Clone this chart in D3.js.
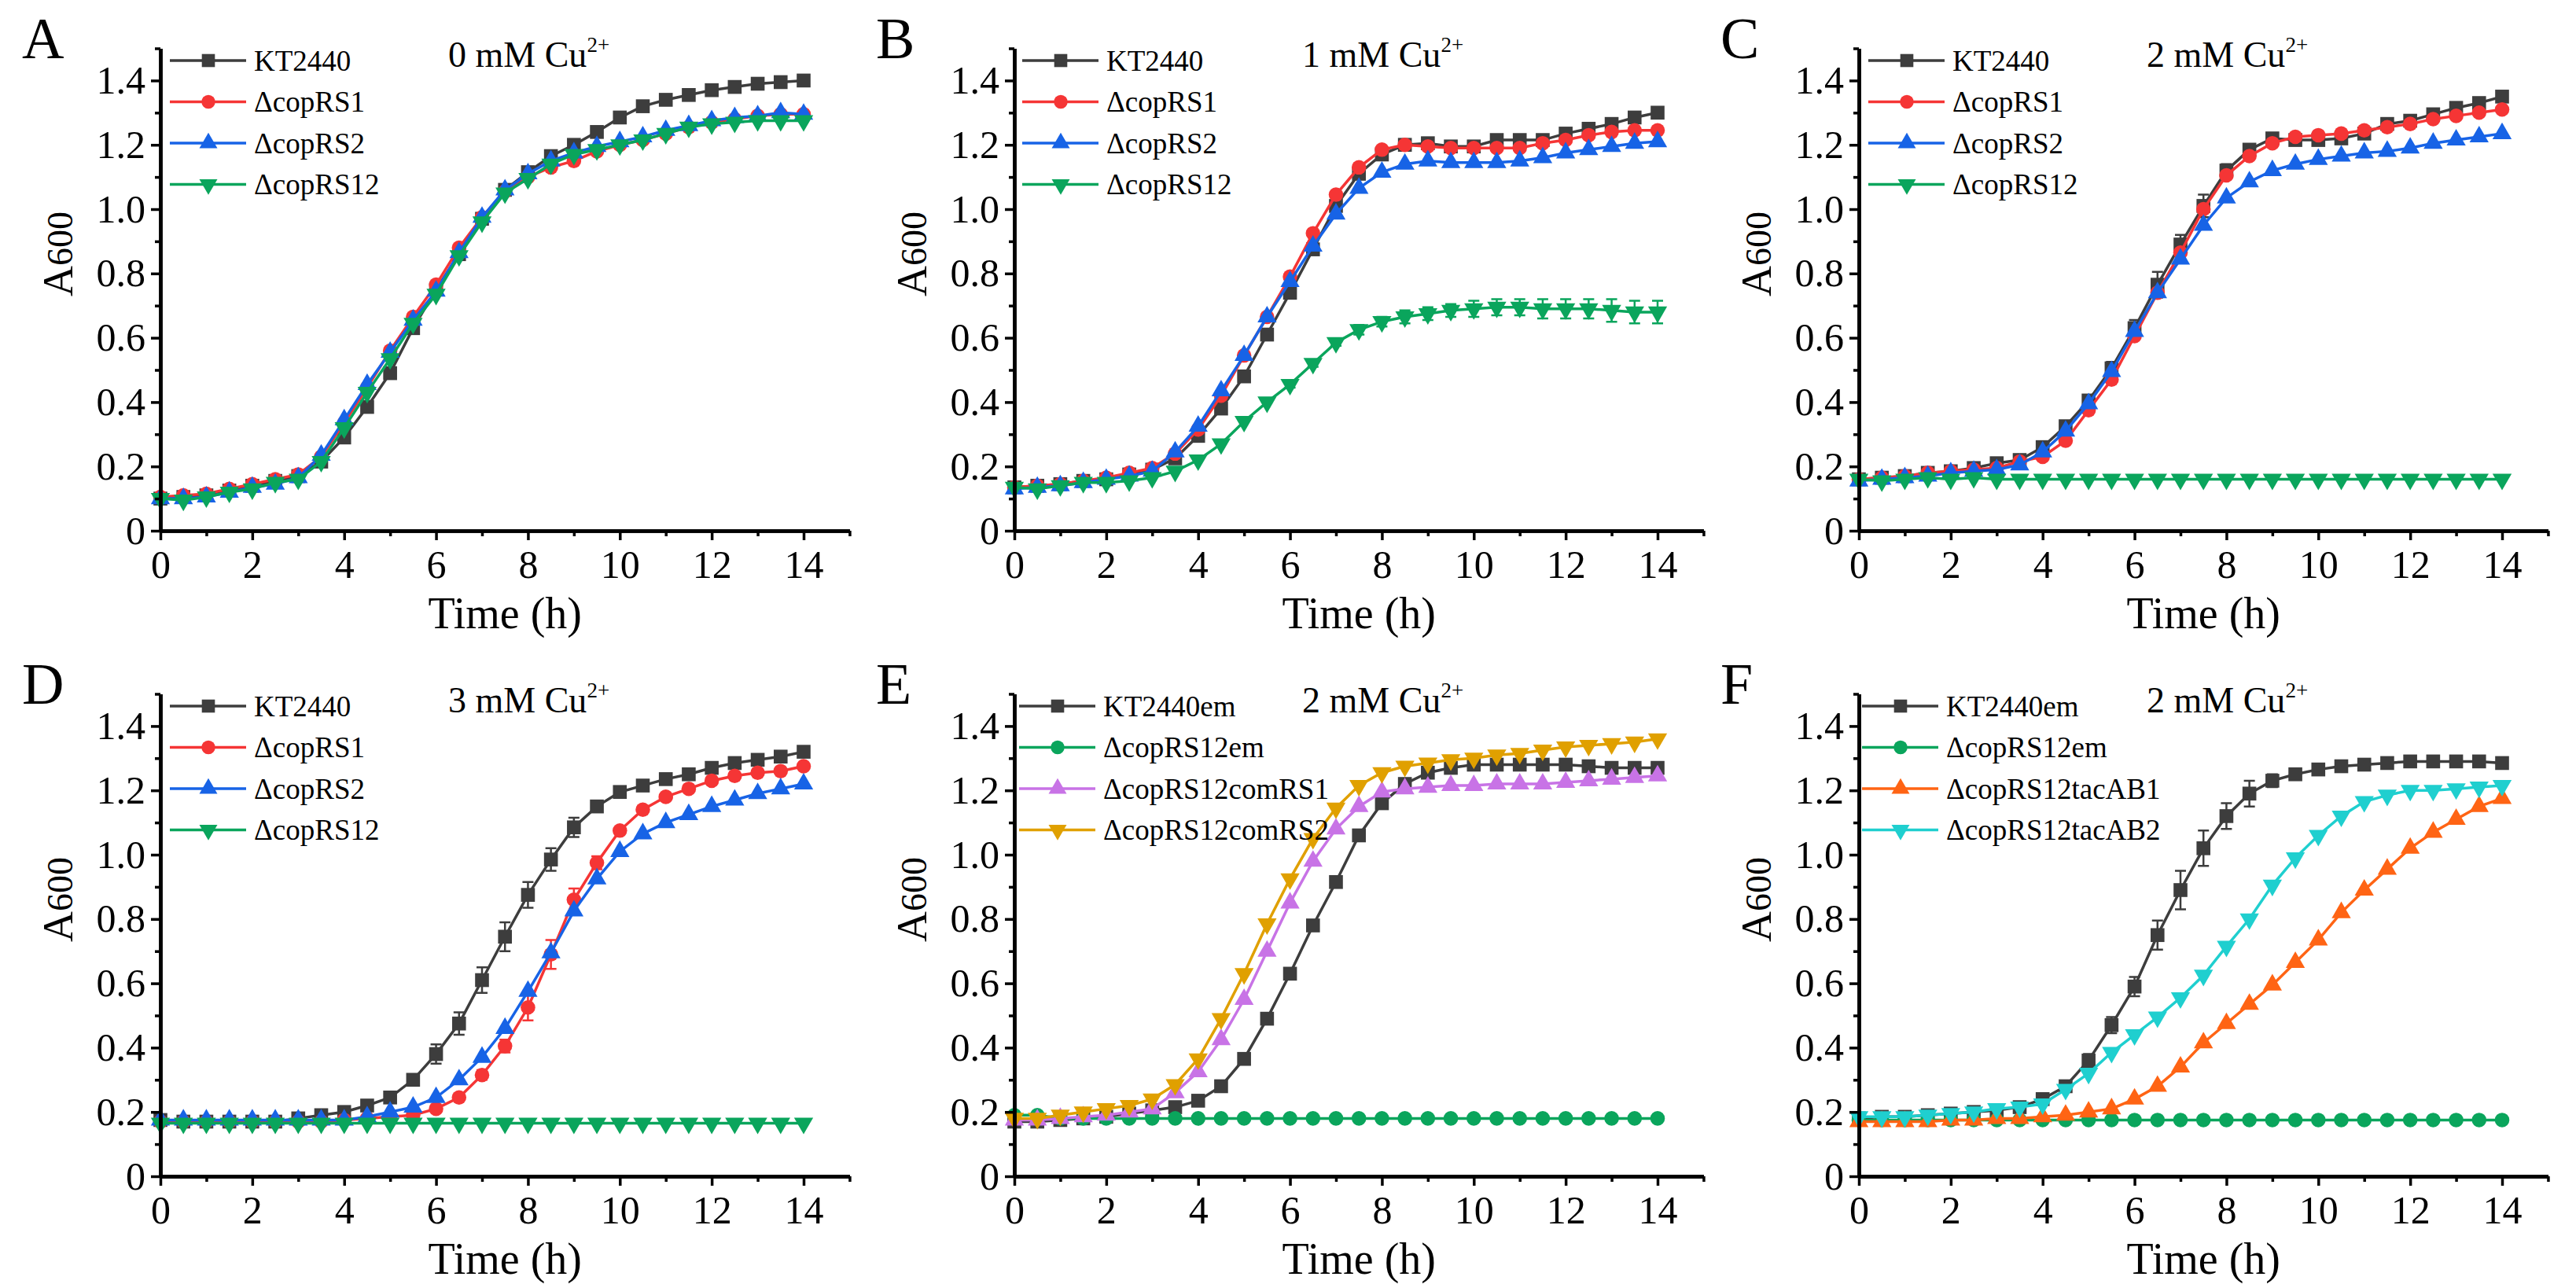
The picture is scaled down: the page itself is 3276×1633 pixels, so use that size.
<!DOCTYPE html>
<html>
<head>
<meta charset="utf-8">
<script src="https://cdn.jsdelivr.net/npm/d3@7"></script>
<style>
  body { margin: 0; background: #fff; }
  svg text { font-family: "Liberation Serif", "DejaVu Serif", serif !important; fill: #000; }
</style>
</head>
<body>
<script>
// sampling times (h)
var times = [0,0.5,1,1.5,2,2.5,3,3.5,4,4.5,5,5.5,6,6.5,7,7.5,8,8.5,9,9.5,10,10.5,11,11.5,12,12.5,13,13.5,14]

var yTicks = [0,0.2,0.4,0.6,0.8,1.0,1.2,1.4]
var yMinor = [0.1,0.3,0.5,0.7,0.9,1.1,1.3,1.5]
var xTicks = [0,2,4,6,8,10,12,14]
var xMinor = [1,3,5,7,9,11,13,15]

// A: 0 mM Cu2+
var aKT2440 = [0.10,0.105,0.11,0.125,0.14,0.155,0.17,0.215,0.29,0.385,0.49,0.63,0.75,0.86,0.97,1.06,1.115,1.165,1.20,1.24,1.285,1.32,1.34,1.355,1.37,1.38,1.39,1.395,1.40]
var aRS1 = [0.105,0.11,0.115,0.13,0.145,0.16,0.175,0.23,0.335,0.445,0.56,0.665,0.765,0.88,0.975,1.055,1.10,1.13,1.15,1.18,1.20,1.215,1.235,1.255,1.27,1.28,1.29,1.295,1.295]
var aRS2 = [0.10,0.10,0.105,0.12,0.135,0.145,0.165,0.235,0.345,0.455,0.555,0.655,0.745,0.865,0.975,1.06,1.11,1.15,1.175,1.195,1.21,1.225,1.245,1.26,1.275,1.285,1.29,1.30,1.295]
var aRS12 = [0.10,0.095,0.105,0.12,0.13,0.15,0.16,0.215,0.32,0.43,0.535,0.645,0.735,0.855,0.96,1.05,1.095,1.14,1.17,1.185,1.20,1.215,1.235,1.255,1.265,1.27,1.275,1.275,1.275]

// B: 1 mM Cu2+
var bKT2440 = [0.135,0.14,0.145,0.155,0.16,0.175,0.19,0.225,0.295,0.38,0.48,0.61,0.74,0.875,1.01,1.11,1.17,1.20,1.205,1.195,1.195,1.215,1.215,1.215,1.235,1.25,1.265,1.285,1.30]
var bRS1 = [0.135,0.14,0.145,0.155,0.165,0.18,0.195,0.24,0.315,0.42,0.545,0.665,0.79,0.925,1.045,1.13,1.185,1.20,1.195,1.19,1.19,1.19,1.19,1.205,1.215,1.23,1.24,1.245,1.245]
var bRS2 = [0.13,0.135,0.14,0.15,0.16,0.17,0.185,0.245,0.325,0.435,0.545,0.665,0.775,0.885,0.985,1.065,1.115,1.14,1.15,1.145,1.145,1.145,1.15,1.16,1.175,1.185,1.195,1.205,1.21]
var bRS12 = [0.135,0.13,0.14,0.15,0.15,0.155,0.165,0.185,0.22,0.27,0.34,0.40,0.455,0.52,0.585,0.625,0.65,0.665,0.675,0.685,0.69,0.695,0.695,0.69,0.69,0.69,0.685,0.68,0.68]
var bRS12err = [0,0,0,0,0,0,0,0,0,0,0.005,0.005,0.01,0.01,0.01,0.015,0.015,0.02,0.02,0.02,0.025,0.025,0.025,0.03,0.03,0.03,0.035,0.035,0.035]

// C: 2 mM Cu2+
var cKT2440 = [0.16,0.165,0.17,0.18,0.185,0.195,0.21,0.22,0.26,0.325,0.405,0.505,0.63,0.765,0.89,1.01,1.12,1.185,1.22,1.215,1.215,1.22,1.235,1.265,1.275,1.295,1.315,1.33,1.35]
var cKT2440err = [0,0,0,0,0,0,0,0,0,0,0.01,0.02,0.025,0.04,0.03,0.035,0.02,0.01,0.01,0.01,0.01,0.01,0.01,0.01,0.01,0.01,0.01,0.01,0.01]
var cRS1 = [0.16,0.165,0.17,0.18,0.185,0.19,0.195,0.215,0.23,0.28,0.375,0.47,0.605,0.74,0.865,1.00,1.105,1.165,1.205,1.225,1.23,1.235,1.245,1.255,1.265,1.28,1.29,1.30,1.31]
var cRS2 = [0.155,0.16,0.165,0.17,0.18,0.185,0.19,0.205,0.245,0.31,0.395,0.495,0.62,0.74,0.845,0.95,1.035,1.085,1.12,1.14,1.155,1.165,1.175,1.18,1.19,1.205,1.215,1.225,1.235]
var cRS12 = [0.16,0.155,0.16,0.165,0.16,0.165,0.16,0.16,0.16,0.16,0.16,0.16,0.16,0.16,0.16,0.16,0.16,0.16,0.16,0.16,0.16,0.16,0.16,0.16,0.16,0.16,0.16,0.16,0.16]

// D: 3 mM Cu2+
var dKT2440 = [0.175,0.17,0.17,0.17,0.17,0.17,0.18,0.19,0.20,0.22,0.245,0.30,0.38,0.475,0.61,0.745,0.875,0.985,1.085,1.15,1.195,1.215,1.235,1.25,1.27,1.285,1.295,1.305,1.32]
var dKT2440err = [0,0,0,0,0,0,0,0,0,0,0.01,0.01,0.03,0.035,0.04,0.045,0.04,0.035,0.03,0.015,0.01,0.01,0.005,0.005,0.005,0.005,0.005,0.005,0.005]
var dRS1 = [0.17,0.17,0.17,0.17,0.17,0.17,0.17,0.17,0.175,0.18,0.185,0.19,0.21,0.245,0.315,0.405,0.525,0.69,0.86,0.975,1.075,1.14,1.18,1.205,1.23,1.245,1.255,1.26,1.275]
var dRS1err = [0,0,0,0,0,0,0,0,0,0,0,0,0.01,0.01,0.015,0.02,0.04,0.045,0.035,0.02,0.01,0.01,0.01,0.01,0.01,0.01,0.01,0.01,0.01]
var dRS2 = [0.175,0.175,0.175,0.175,0.175,0.175,0.175,0.175,0.175,0.185,0.20,0.215,0.245,0.30,0.37,0.46,0.575,0.695,0.825,0.925,1.01,1.065,1.10,1.125,1.15,1.17,1.19,1.205,1.22]
var dRS12 = [0.165,0.165,0.165,0.165,0.165,0.165,0.165,0.165,0.165,0.165,0.165,0.165,0.165,0.165,0.165,0.165,0.165,0.165,0.165,0.165,0.165,0.165,0.165,0.165,0.165,0.165,0.165,0.165,0.165]

// E: 2 mM Cu2+, complementation
var eKT2440em = [0.17,0.17,0.175,0.18,0.185,0.195,0.205,0.215,0.235,0.28,0.365,0.49,0.63,0.78,0.915,1.06,1.16,1.22,1.255,1.27,1.28,1.28,1.28,1.28,1.28,1.275,1.27,1.27,1.27]
var eRS12em = [0.19,0.19,0.18,0.18,0.18,0.18,0.18,0.18,0.18,0.18,0.18,0.18,0.18,0.18,0.18,0.18,0.18,0.18,0.18,0.18,0.18,0.18,0.18,0.18,0.18,0.18,0.18,0.18,0.18]
var eComRS1 = [0.175,0.175,0.18,0.185,0.19,0.20,0.21,0.26,0.325,0.425,0.55,0.70,0.85,0.98,1.08,1.15,1.195,1.205,1.21,1.215,1.215,1.22,1.22,1.22,1.225,1.23,1.235,1.24,1.245]
var eComRS2 = [0.18,0.18,0.19,0.20,0.21,0.22,0.24,0.285,0.365,0.49,0.63,0.785,0.925,1.05,1.145,1.215,1.255,1.275,1.285,1.295,1.30,1.31,1.315,1.325,1.335,1.34,1.345,1.35,1.36]

// F: 2 mM Cu2+, tacAB
var fKT2440em = [0.18,0.185,0.185,0.19,0.195,0.20,0.205,0.215,0.24,0.28,0.36,0.47,0.59,0.75,0.89,1.02,1.12,1.19,1.23,1.25,1.265,1.275,1.28,1.285,1.29,1.29,1.29,1.29,1.285]
var fKT2440err = [0,0,0,0,0,0,0,0,0.01,0.01,0.02,0.025,0.03,0.045,0.06,0.055,0.04,0.04,0.02,0.01,0.01,0.005,0.005,0.005,0.005,0.005,0.005,0.005,0.005]
var fRS12em = [0.175,0.175,0.175,0.175,0.175,0.175,0.175,0.175,0.175,0.175,0.175,0.175,0.175,0.175,0.175,0.175,0.175,0.175,0.175,0.175,0.175,0.175,0.175,0.175,0.175,0.175,0.175,0.175,0.175]
var fTacAB1 = [0.17,0.17,0.17,0.17,0.175,0.175,0.18,0.18,0.185,0.19,0.20,0.21,0.24,0.28,0.34,0.415,0.475,0.535,0.595,0.665,0.735,0.82,0.89,0.955,1.02,1.07,1.11,1.15,1.175]
var fTacAB2 = [0.185,0.185,0.185,0.19,0.195,0.20,0.21,0.215,0.225,0.27,0.32,0.385,0.44,0.495,0.555,0.625,0.715,0.80,0.905,0.99,1.06,1.12,1.165,1.185,1.20,1.20,1.205,1.21,1.215]

// styles
var sty = {
  kt:    {color: "#3d3d3d", shape: "square"},
  rs1:   {color: "#f53535", shape: "circle"},
  rs2:   {color: "#1763e6", shape: "up"},
  rs12:  {color: "#0aa55c", shape: "down"},
  rs12c: {color: "#0aa55c", shape: "circle"},
  com1:  {color: "#c873e6", shape: "up"},
  com2:  {color: "#e0a000", shape: "down"},
  tac1:  {color: "#ff6414", shape: "up"},
  tac2:  {color: "#1fcfcf", shape: "down"}
}

var panels = [
  {letter: "A", conc: "0", col: 0, row: 0, legDx: 12, series: [
    ["KT2440", aKT2440, sty.kt], ["\u0394copRS1", aRS1, sty.rs1], ["\u0394copRS2", aRS2, sty.rs2], ["\u0394copRS12", aRS12, sty.rs12]]},
  {letter: "B", conc: "1", col: 1, row: 0, legDx: 10, series: [
    ["KT2440", bKT2440, sty.kt], ["\u0394copRS1", bRS1, sty.rs1], ["\u0394copRS2", bRS2, sty.rs2], ["\u0394copRS12", bRS12, sty.rs12, bRS12err]]},
  {letter: "C", conc: "2", col: 2, row: 0, legDx: 12, series: [
    ["KT2440", cKT2440, sty.kt, cKT2440err], ["\u0394copRS1", cRS1, sty.rs1], ["\u0394copRS2", cRS2, sty.rs2], ["\u0394copRS12", cRS12, sty.rs12]]},
  {letter: "D", conc: "3", col: 0, row: 1, legDx: 12, series: [
    ["KT2440", dKT2440, sty.kt, dKT2440err], ["\u0394copRS1", dRS1, sty.rs1, dRS1err], ["\u0394copRS2", dRS2, sty.rs2], ["\u0394copRS12", dRS12, sty.rs12]]},
  {letter: "E", conc: "2", col: 1, row: 1, legDx: 6, series: [
    ["KT2440em", eKT2440em, sty.kt], ["\u0394copRS12em", eRS12em, sty.rs12c], ["\u0394copRS12comRS1", eComRS1, sty.com1], ["\u0394copRS12comRS2", eComRS2, sty.com2]]},
  {letter: "F", conc: "2", col: 2, row: 1, legDx: 4, series: [
    ["KT2440em", fKT2440em, sty.kt, fKT2440err], ["\u0394copRS12em", fRS12em, sty.rs12c], ["\u0394copRS12tacAB1", fTacAB1, sty.tac1], ["\u0394copRS12tacAB2", fTacAB2, sty.tac2]]}
]

var colX = [204, 1290, 2364]
var rowY = [675, 1496]
var hourPx = 818 / 14
var unitPx = 409

var svg = d3.select("body").append("svg")
  .attr("width", 3276)
  .attr("height", 1633)

svg.append("rect").attr("width", 3276).attr("height", 1633).attr("fill", "#fff")

function symbolPath (shape, size) {
  if (shape === "square") return d3.symbol(d3.symbolSquare, size * 1.15)()
  if (shape === "circle") return d3.symbol(d3.symbolCircle, size)()
  return d3.symbol(d3.symbolTriangle, size * 0.95)()
}

function drawPanel (p) {
  var x0 = colX[p.col], y0 = rowY[p.row]
  var x = d3.scaleLinear().domain([0, 15]).range([x0, x0 + 15 * hourPx])
  var y = d3.scaleLinear().domain([0, 1.5]).range([y0, y0 - 1.5 * unitPx])
  var g = svg.append("g")

  // series
  p.series.forEach(function (s) {
    var vals = s[1], st = s[2], err = s[3]
    var pts = times.map(function (t, i) { return {t: t, v: vals[i], e: err ? err[i] : 0} })
    var sg = g.append("g")
    sg.append("path")
      .datum(pts)
      .attr("fill", "none")
      .attr("stroke", st.color)
      .attr("stroke-width", 3.5)
      .attr("d", d3.line().x(d => x(d.t)).y(d => y(d.v)))
    var eb = pts.filter(d => d.e > 0.008)
    sg.selectAll(".err").data(eb).enter().append("path")
      .attr("fill", "none")
      .attr("stroke", st.color)
      .attr("stroke-width", 2.5)
      .attr("d", function (d) {
        var xa = x(d.t), yt = y(d.v + d.e), yb = y(d.v - d.e)
        return "M" + xa + "," + yt + "V" + yb + "M" + (xa - 7) + "," + yt + "H" + (xa + 7) + "M" + (xa - 7) + "," + yb + "H" + (xa + 7)
      })
    sg.selectAll(".mk").data(pts).enter().append("path")
      .attr("fill", st.color)
      .attr("d", symbolPath(st.shape, 270))
      .attr("transform", d => "translate(" + x(d.t) + "," + y(d.v) + ")" + (st.shape === "down" ? " rotate(180)" : ""))
  })

  // axes
  var fmt = d => d === 0 ? "0" : d3.format(".1f")(d)
  g.append("g").attr("transform", "translate(" + x0 + ",0)")
    .call(d3.axisLeft(y).tickValues(yTicks).tickFormat(fmt).tickSize(12).tickSizeOuter(0).tickPadding(7))
  g.append("g").attr("transform", "translate(" + x0 + ",0)")
    .call(d3.axisLeft(y).tickValues(yMinor).tickFormat("").tickSize(7).tickSizeOuter(0))
  g.append("g").attr("transform", "translate(0," + y0 + ")")
    .call(d3.axisBottom(x).tickValues(xTicks).tickSize(12).tickSizeOuter(0).tickPadding(12))
  g.append("g").attr("transform", "translate(0," + y0 + ")")
    .call(d3.axisBottom(x).tickValues(xMinor).tickFormat("").tickSize(7).tickSizeOuter(0))
  g.selectAll(".domain").attr("stroke", "#000").attr("stroke-width", 4.5)
  g.selectAll(".tick line").attr("stroke", "#000").attr("stroke-width", 3.5)
  g.selectAll(".tick text").attr("font-size", 50)

  // axis titles
  g.append("text")
    .attr("x", x(7.5)).attr("y", y0 + 124)
    .attr("text-anchor", "middle")
    .attr("font-size", 56)
    .text("Time (h)")
  var yl = g.append("text")
    .attr("transform", "translate(" + (x0 - 112) + "," + (y0 - 352) + ") rotate(-90)")
    .attr("text-anchor", "middle")
    .attr("font-size", 54)
  yl.append("tspan").text("A")
  yl.append("tspan").attr("font-size", 46).text("600")

  // panel letter
  g.append("text")
    .attr("x", x0 - 176).attr("y", y0 - 601)
    .attr("font-size", 74)
    .text(p.letter)

  // condition title
  var tt = g.append("text")
    .attr("x", x0 + 366).attr("y", y0 - 590)
    .attr("font-size", 46)
  tt.append("tspan").text(p.conc + " mM Cu")
  tt.append("tspan").attr("font-size", 27).attr("dy", -19).text("2+")

  // legend
  p.series.forEach(function (s, i) {
    var ly = y0 - 598 + i * 52.5
    var lx = x0 + p.legDx
    var st = s[2]
    g.append("line")
      .attr("x1", lx).attr("x2", lx + 97).attr("y1", ly).attr("y2", ly)
      .attr("stroke", st.color).attr("stroke-width", 3.5)
    g.append("path")
      .attr("fill", st.color)
      .attr("d", symbolPath(st.shape, 240))
      .attr("transform", "translate(" + (lx + 49) + "," + ly + ")" + (st.shape === "down" ? " rotate(180)" : ""))
    g.append("text")
      .attr("x", lx + 107).attr("y", ly).attr("dy", "0.35em")
      .attr("font-size", 37)
      .text(s[0])
  })
}

panels.forEach(drawPanel)
</script>
</body>
</html>
